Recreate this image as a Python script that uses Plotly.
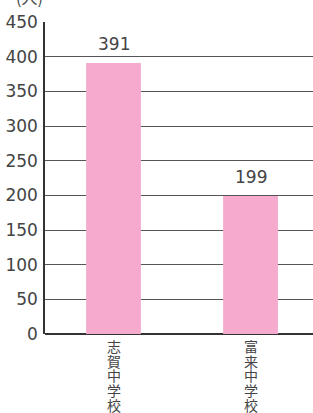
import plotly.graph_objects as go

categories = ["志賀中学校", "富来中学校"]
values = [391, 199]
y_ticks = [0, 50, 100, 150, 200, 250, 300, 350, 400, 450]

cjk_font = "Noto Sans CJK JP, sans-serif"
num_font = "DejaVu Sans, sans-serif"

fig = go.Figure()
fig.add_trace(go.Bar(
    x=categories, y=values, width=0.4,
    marker=dict(color="#F5AACE", line=dict(width=0)),
    hoverinfo="skip",
))
for c, v in zip(categories, values):
    fig.add_annotation(x=c, y=v, text=str(v), showarrow=False,
                       yanchor="bottom", yshift=7,
                       font=dict(size=17, color="#444", family=num_font))
    for i, ch in enumerate(c):
        fig.add_annotation(x=c, xref="x", yref="paper", y=0, yshift=-(1 + 14.7 * i),
                           text=ch, showarrow=False, yanchor="top", borderpad=0,
                           font=dict(size=14, color="#444", family=cjk_font))

fig.add_annotation(xref="paper", yref="paper", x=-0.115, y=1.0, yshift=11,
                   text="(人)", showarrow=False, xanchor="left", yanchor="bottom",
                   font=dict(size=16, color="#444", family=cjk_font))

fig.update_layout(
    width=313, height=413,
    margin=dict(l=45, r=0, t=22, b=79, autoexpand=False),
    plot_bgcolor="white", paper_bgcolor="white",
    showlegend=False,
)
fig.update_xaxes(
    range=[-0.5, 1.456], tickmode="array", tickvals=categories, ticktext=["", ""],
    showgrid=False, showline=False, ticks="", automargin=False,
)
fig.update_yaxes(
    range=[0, 450], tickvals=y_ticks, showgrid=True, gridcolor="#555", gridwidth=1.2,
    showline=True, linecolor="#333", linewidth=1.5, automargin=False,
    zeroline=True, zerolinecolor="#333", zerolinewidth=2,
    ticks="", ticklabelstandoff=2,
    tickfont=dict(size=17, color="#444", family=num_font),
)
fig.write_html(
    "out.html",
    config={"displayModeBar": False},
    post_script="document.body.style.margin='0';document.body.style.overflow='hidden';",
)
